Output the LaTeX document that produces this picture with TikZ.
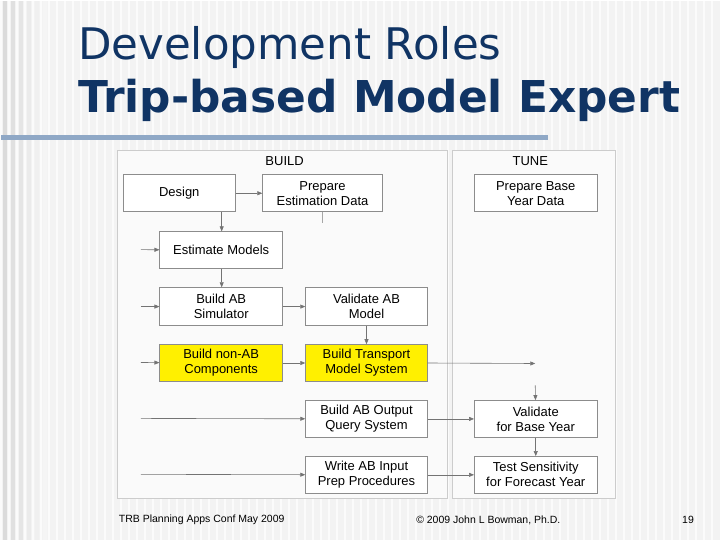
\documentclass[tikz,border=0pt]{standalone}
\usepackage{fontspec}
\setmainfont{Liberation Sans}
\newfontfamily\titlefont{DejaVu Sans}
\usetikzlibrary{arrows.meta}
\definecolor{bg}{RGB}{243,243,243}
\definecolor{titleblue}{RGB}{16,52,100}
\definecolor{barblue}{RGB}{143,168,198}
\definecolor{ylw}{RGB}{255,240,0}
\tikzset{
  box/.style={draw=black!45,fill=white,line width=0.6pt,inner sep=0pt,align=center,font=\fontsize{13}{15}\selectfont},
  hl/.style={box,fill=ylw},
  panel/.style={draw=black!20,line width=0.8pt,fill=black!2},
  conn/.style={draw=black!55,line width=0.6pt,-{Triangle[length=5pt,width=4pt]}},
  stub/.style={draw=black!35,line width=0.6pt},
}
\newcommand{\bx}[6]{\node[#1,minimum width=#4-#2,minimum height=#5-#3] (#6) at ({(#2+#4)/2},{(#3+#5)/2})}
\begin{document}
\begin{tikzpicture}[x=1pt,y=-1pt]
\fill[bg] (0,0) rectangle (720,540);
\foreach \i in {0,8,...,712} \draw[white!70!bg,line width=2pt] (\i,0) -- (\i,540);
\foreach \i/\c in {4/84,12/86,20/88,28/90,36/92,44/94} \fill[black!\c!white,opacity=0.0] (\i,0) rectangle ++(4,540);
\foreach \i/\c in {2/14,10/12,18/10,26/8,34/6,42/4} \fill[black!\c] (\i,0) rectangle ++(4,540);
\fill[barblue] (0,134.5) rectangle (548,139.5);
\node[anchor=west,inner sep=0pt,text=titleblue] (t1) at (77,47) {\resizebox{424pt}{!}{\titlefont\fontsize{38}{40}\selectfont Development Roles}};
\node[anchor=west,inner sep=0pt,text=titleblue] (t2) at (77,100) {\resizebox{603pt}{!}{\titlefont\bfseries\fontsize{38}{40}\selectfont Trip-based Model Expert}};
\fill[panel] (117,150) rectangle (447,498);
\fill[panel] (452,150) rectangle (615,498);
\draw[black!20,line width=0.8pt] (117,150) rectangle (447,498) (452,150) rectangle (615,498);
\node[font=\fontsize{13}{15}\selectfont] (lb) at (284,160) {BUILD};
\node[font=\fontsize{13}{15}\selectfont] (lt) at (530,160) {TUNE};
\bx{box}{122}{174}{235}{211}{des} {Design};
\bx{box}{262}{174}{382}{211}{ped} {Prepare\\Estimation Data};
\bx{box}{474}{174}{597}{211}{pby} {Prepare Base\\Year Data};
\bx{box}{159}{231}{282}{268}{est} {Estimate Models};
\bx{box}{159}{287}{282}{325}{bas} {Build AB\\Simulator};
\bx{box}{305}{287}{427}{325}{vab} {Validate AB\\Model};
\bx{hl}{159}{344}{282}{381}{bna} {Build non-AB\\Components};
\bx{hl}{305}{344}{427}{381}{btm} {Build Transport\\Model System};
\bx{box}{305}{400}{427}{437}{boq} {Build AB Output\\Query System};
\bx{box}{474}{400}{597}{437}{vby} {Validate\\for Base Year};
\bx{box}{305}{456}{427}{493}{wai} {Write AB Input\\Prep Procedures};
\bx{box}{474}{456}{597}{493}{tsf} {Test Sensitivity\\for Forecast Year};
\coordinate (c1) at (140,249);
\coordinate (c2) at (140,306);
\coordinate (c3) at (140,362);
\coordinate (c4) at (140,418);
\coordinate (c5) at (140,474);
\coordinate (c6) at (535,363);
\coordinate (c7) at (535,385);
\coordinate (c8) at (322,222);
\draw[conn] (des) -- (ped);
\draw[stub] (ped.south) -- (c8);
\draw[conn] (des.south -| 221,0) -- (est.north -| 221,0);
\draw[conn] (c1) -- (est);
\draw[conn] (est.south -| 221,0) -- (bas.north -| 221,0);
\draw[conn] (c2) -- (bas);
\draw[conn] (bas) -- (vab);
\draw[conn] (vab) -- (btm);
\draw[conn] (c3) -- (bna);
\draw[conn] (bna) -- (btm);
\draw[conn] (btm.east) -- (c6);
\draw[conn] (c7) -- (vby);
\draw[conn] (c4) -- (boq);
\draw[conn] (boq) -- (vby);
\draw[conn] (vby) -- (tsf);
\draw[conn] (c5) -- (wai);
\draw[conn] (wai) -- (tsf);
\node[font=\fontsize{10.5}{12}\selectfont] (f1) at (201,520) {TRB Planning Apps Conf May 2009};
\node[font=\fontsize{10.5}{12}\selectfont] (f2) at (488,520) {© 2009 John L Bowman, Ph.D.};
\node[font=\fontsize{10.5}{12}\selectfont] (f3) at (688,520) {19};
\end{tikzpicture}
\end{document}
